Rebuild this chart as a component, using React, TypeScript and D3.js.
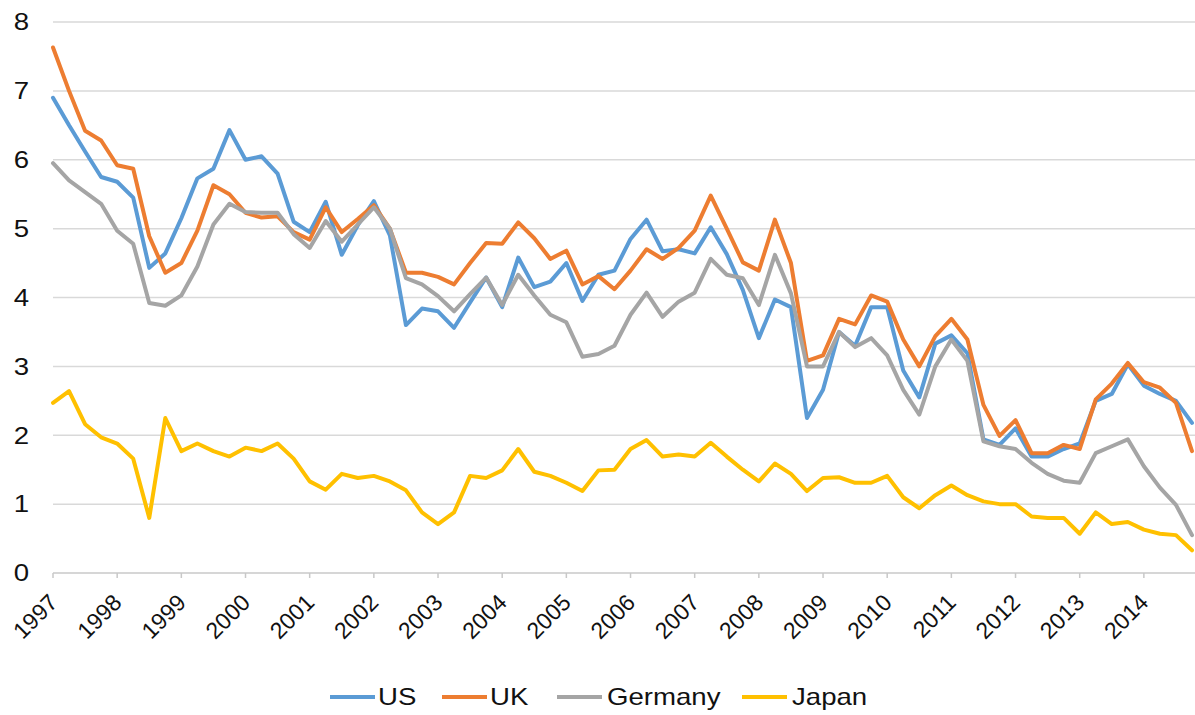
import React from 'react'
import { scaleLinear, scalePoint, line } from 'd3'

const years = [1997, 1998, 1999, 2000, 2001, 2002, 2003, 2004, 2005, 2006, 2007, 2008, 2009, 2010, 2011, 2012, 2013, 2014]
const quarters = years.flatMap(y => ['Q1', 'Q2', 'Q3', 'Q4'].map(q => `${y} ${q}`))
const yTicks = [0, 1, 2, 3, 4, 5, 6, 7, 8]

const us = [
  6.9, 6.5, 6.12, 5.75, 5.68, 5.45, 4.43, 4.64, 5.15, 5.73, 5.87, 6.43,
  6.0, 6.05, 5.8, 5.1, 4.95, 5.39, 4.62, 5.05, 5.4, 4.9, 3.6, 3.84,
  3.8, 3.56, 3.93, 4.29, 3.86, 4.58, 4.15, 4.23, 4.5, 3.95, 4.33, 4.39,
  4.85, 5.13, 4.67, 4.7, 4.64, 5.02, 4.63, 4.11, 3.41, 3.97, 3.86, 2.25,
  2.66, 3.5, 3.3, 3.86, 3.86, 2.94, 2.55, 3.33, 3.45, 3.19, 1.94, 1.86,
  2.1, 1.69, 1.69, 1.8, 1.88, 2.5, 2.6, 3.03, 2.72, 2.6, 2.5, 2.18,
]
const uk = [
  7.63, 7.0, 6.42, 6.28, 5.92, 5.87, 4.89, 4.36, 4.5, 4.97, 5.63, 5.5,
  5.23, 5.16, 5.18, 4.95, 4.84, 5.31, 4.95, 5.14, 5.34, 5.0, 4.36, 4.36,
  4.3, 4.19, 4.5, 4.79, 4.78, 5.09, 4.86, 4.56, 4.68, 4.19, 4.31, 4.12,
  4.39, 4.7, 4.56, 4.72, 4.97, 5.48, 5.0, 4.51, 4.39, 5.13, 4.5, 3.08,
  3.16, 3.69, 3.61, 4.03, 3.94, 3.39, 3.0, 3.44, 3.69, 3.39, 2.44, 1.99,
  2.22, 1.74, 1.74, 1.86, 1.8, 2.52, 2.75, 3.05, 2.77, 2.69, 2.47, 1.77,
]
const germany = [
  5.95, 5.7, 5.53, 5.36, 4.97, 4.78, 3.92, 3.88, 4.03, 4.45, 5.06, 5.36,
  5.24, 5.23, 5.23, 4.92, 4.72, 5.11, 4.81, 5.06, 5.31, 5.0, 4.28, 4.19,
  4.02, 3.8, 4.05, 4.29, 3.89, 4.33, 4.03, 3.75, 3.64, 3.14, 3.18, 3.3,
  3.75, 4.07, 3.72, 3.94, 4.07, 4.56, 4.33, 4.28, 3.89, 4.62, 4.06, 3.0,
  3.0, 3.5, 3.28, 3.41, 3.16, 2.66, 2.3, 3.0, 3.39, 3.08, 1.91, 1.84,
  1.8, 1.6, 1.44, 1.34, 1.31, 1.74, 1.84, 1.94, 1.55, 1.24, 0.99, 0.55,
]
const japan = [
  2.47, 2.64, 2.16, 1.97, 1.88, 1.66, 0.8, 2.25, 1.77, 1.88, 1.77, 1.69,
  1.82, 1.77, 1.88, 1.66, 1.33, 1.21, 1.44, 1.38, 1.41, 1.33, 1.2, 0.88,
  0.71, 0.88, 1.41, 1.38, 1.49, 1.8, 1.47, 1.41, 1.31, 1.19, 1.49, 1.5,
  1.8, 1.93, 1.69, 1.72, 1.69, 1.89, 1.69, 1.5, 1.33, 1.59, 1.44, 1.19,
  1.38, 1.39, 1.31, 1.31, 1.41, 1.1, 0.94, 1.13, 1.27, 1.13, 1.04, 1.0,
  1.0, 0.82, 0.8, 0.8, 0.57, 0.88, 0.71, 0.74, 0.63, 0.57, 0.55, 0.33,
]

const seriesNames = ['US', 'UK', 'Germany', 'Japan']
const seriesColors = ['#5B9BD5', '#ED7D31', '#A5A5A5', '#FFC000']

const W = 1195
const H = 715
const font = 'Arial, "Liberation Sans", sans-serif'

export default function App() {
  const series = [us, uk, germany, japan]

  const x = scalePoint().domain(quarters).range([53, 1192])
  const y = scaleLinear().domain([0, 8]).range([573, 22])

  const lineGen = line<number>()
    .x((_, i) => x(quarters[i]) as number)
    .y(d => y(d))

  // legend layout
  const legendItems = [
    { lineX: 330, textX: 378 },
    { lineX: 442, textX: 490 },
    { lineX: 557, textX: 607 },
    { lineX: 742, textX: 792 },
  ]

  return (
    <svg
      width={W}
      height={H}
      style={{ position: 'absolute', left: 0, top: 0, background: '#fff' }}
    >
      {/* gridlines */}
      {yTicks.slice(1).map(t => (
        <line key={t} x1={53} x2={W} y1={y(t)} y2={y(t)} stroke="#D9D9D9" strokeWidth={1.5} />
      ))}
      {/* x axis */}
      <line x1={53} x2={W} y1={y(0)} y2={y(0)} stroke="#C8C8C8" strokeWidth={1.5} />
      {years.map(yr => {
        const tx = x(`${yr} Q1`) as number
        return (
          <g key={yr}>
            <line x1={tx} x2={tx} y1={y(0)} y2={y(0) + 5} stroke="#C8C8C8" strokeWidth={1.5} />
            <text
              transform={`translate(${tx + 6}, ${y(0) + 31}) rotate(-45)`}
              textAnchor="end"
              fontFamily={font}
              fontSize={23}
              fill="#111"
            >
              {yr}
            </text>
          </g>
        )
      })}
      {/* y labels */}
      {yTicks.map(t => (
        <text
          key={t}
          transform={`translate(29, ${y(t)}) scale(1.2, 1)`}
          dy="0.36em"
          textAnchor="end"
          fontFamily={font}
          fontSize={23}
          fill="#111"
        >
          {t}
        </text>
      ))}
      {/* series */}
      {series.map((s, i) => (
        <path
          key={seriesNames[i]}
          d={lineGen(s) || ''}
          fill="none"
          stroke={seriesColors[i]}
          strokeWidth={4}
          strokeLinejoin="round"
          strokeLinecap="round"
        />
      ))}
      {/* legend */}
      {seriesNames.map((name, i) => (
        <g key={name}>
          <line
            x1={legendItems[i].lineX}
            x2={legendItems[i].lineX + 45}
            y1={697}
            y2={697}
            stroke={seriesColors[i]}
            strokeWidth={4}
          />
          <text
            transform={`translate(${legendItems[i].textX}, 697) scale(1.2, 1)`}
            dy="0.36em"
            fontFamily={font}
            fontSize={23}
            fill="#111"
          >
            {name}
          </text>
        </g>
      ))}
    </svg>
  )
}
